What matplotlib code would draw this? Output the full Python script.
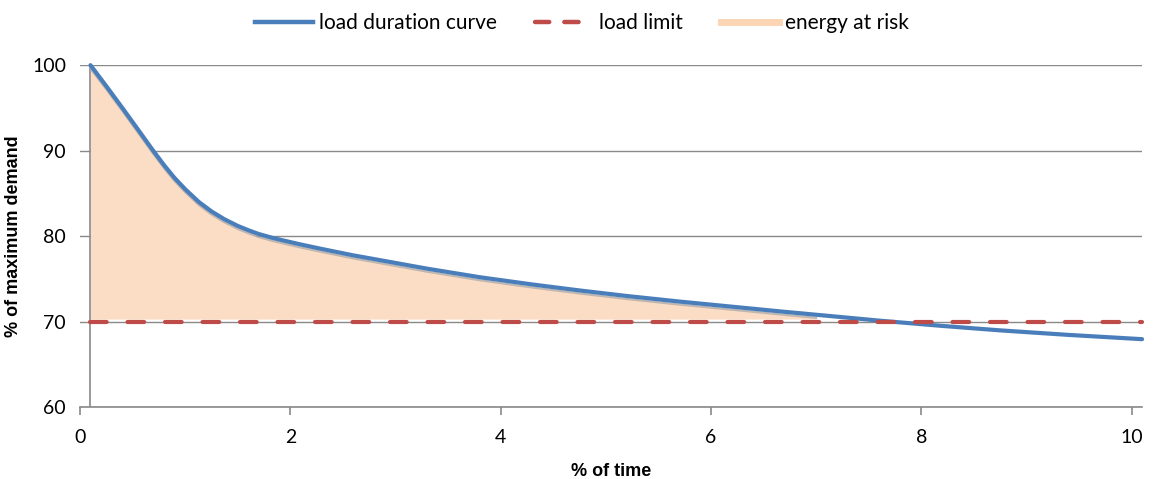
import matplotlib
matplotlib.use("Agg")
import matplotlib.pyplot as plt
from matplotlib.lines import Line2D

# ---- data ----
time_pct = [0.1, 0.25, 0.4, 0.55, 0.69, 0.8, 0.9, 1.0, 1.13, 1.25, 1.37, 1.5, 1.61, 1.7, 1.83,
            1.95, 2.09, 2.3, 2.6, 2.85, 3.3, 3.8, 4.3, 4.75, 5.2, 5.7, 6.2, 6.7, 7.2, 7.6,
            8.2, 8.75, 9.4, 10.1]
load_pct = [100.0, 97.55, 95.05, 92.5, 90.1, 88.3, 86.8, 85.5, 84.0, 82.9, 82.0, 81.2, 80.65,
            80.25, 79.8, 79.45, 79.05, 78.5, 77.75, 77.2, 76.2, 75.2, 74.35, 73.65, 73.0,
            72.35, 71.75, 71.15, 70.58, 70.12, 69.5, 68.98, 68.45, 67.95]

risk_x = [0.1, 0.25, 0.4, 0.55, 0.69, 0.8, 0.9, 1.0, 1.13, 1.25, 1.37, 1.5, 1.61, 1.7, 1.83,
          1.95, 2.09, 2.3, 2.6, 2.85, 3.3, 3.8, 4.3, 4.75, 5.2, 5.7, 6.2, 6.7, 7.0]
risk_top = [99.6, 97.2, 94.7, 92.15, 89.75, 87.95, 86.45, 85.15, 83.65, 82.55, 81.65, 80.85,
            80.3, 79.9, 79.45, 79.1, 78.7, 78.15, 77.4, 76.85, 75.85, 74.85, 74.0, 73.3,
            72.65, 72.0, 71.4, 70.8, 70.45]
risk_base = 70.3

limit_x = [0.1, 10.1]
limit_y = [70, 70]

x_ticks = [0, 2, 4, 6, 8, 10]
y_ticks = [60, 70, 80, 90, 100]

# ---- style ----
plt.rcParams['font.family'] = ['Lato', 'DejaVu Sans']
blue = '#4A7EBB'
red = '#BE4B48'
peach = '#FBDDC6'
peach_leg = '#FCD5B5'
grid_c = '#898989'

fig = plt.figure(figsize=(11.57, 4.79), dpi=100)
ax = fig.add_axes([0.0691, 0.150, 0.918, 0.714])
ax.set_xlim(0, 10.1)
ax.set_ylim(60, 100)

ax.fill_between(risk_x, risk_base, risk_top, color=peach, lw=0, zorder=1)
ax.plot(risk_x, risk_top, color='#B0A8A2', lw=1.6, alpha=0.8, zorder=2,
        solid_joinstyle='round')

ax.plot(time_pct, load_pct, color=blue, lw=3.0, solid_capstyle='round',
        solid_joinstyle='round', zorder=4, clip_on=False)
ax.plot(limit_x, limit_y, color=red, lw=3.0, dashes=(4, 5), dash_capstyle='round',
        zorder=5, clip_on=False)

# axes styling
for s in ['left', 'right', 'top']:
    ax.spines[s].set_visible(False)
ax.spines['bottom'].set_color(grid_c)
ax.spines['bottom'].set_linewidth(1.2)
ax.axvline(0.1, color=grid_c, lw=1.2, zorder=0.5)
ax.set_yticks(y_ticks)
ax.set_xticks(x_ticks)
ax.yaxis.grid(True, color=grid_c, lw=1.0)
ax.set_axisbelow(True)
ax.tick_params(axis='y', length=0, pad=10, labelsize=14, colors='black')
ax.tick_params(axis='x', length=6, width=1.2, color=grid_c, pad=10, labelsize=14)

lab_font = dict(family=['Liberation Sans', 'DejaVu Sans'], fontsize=13, fontweight='bold')
ax.set_xlabel('% of time', labelpad=12, **lab_font)
ax.set_ylabel('% of maximum demand', labelpad=12, **lab_font)
ax.yaxis.set_label_coords(-0.0545, 0.5)

handles = [Line2D([], [], color=blue, lw=3.2),
           Line2D([], [], color=red, lw=3.2, dashes=(3.2, 3.4), dash_capstyle='round'),
           Line2D([], [], color=peach_leg, lw=5)]
fig.legend(handles, ['load duration curve', 'load limit', 'energy at risk'],
           loc='upper center', bbox_to_anchor=(0.503, 1.012), ncol=3, frameon=False,
           fontsize=15, handlelength=2.8, handletextpad=0.3, columnspacing=1.8)

fig.savefig('out.png', dpi=100)
